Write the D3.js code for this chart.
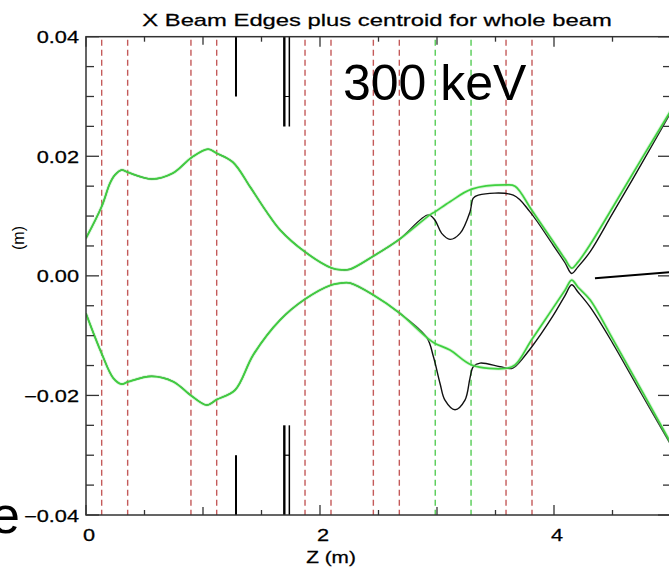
<!DOCTYPE html>
<html>
<head>
<meta charset="utf-8">
<script src="https://cdn.jsdelivr.net/npm/d3@7"></script>
<style>
  html, body { margin: 0; padding: 0; background: #fff; overflow: hidden; }
  text { font-family: "Liberation Sans", Arial, Helvetica, sans-serif; fill: #000; }
</style>
</head>
<body>
<script>
// Beam envelope along the beamline: [z (m), x (m)]
const envelopeUpper = [
  [0, 0.0063], [0.134, 0.0116], [0.205, 0.0155], [0.248, 0.0169], [0.305, 0.0177],
  [0.359, 0.0173], [0.562, 0.0162], [0.744, 0.0172], [0.903, 0.0198], [1.043, 0.0212],
  [1.117, 0.0205], [1.256, 0.0190], [1.402, 0.0149], [1.544, 0.0107], [1.658, 0.0077],
  [1.872, 0.0040], [2.100, 0.0013], [2.185, 0.0010], [2.256, 0.0011], [2.456, 0.0033],
  [2.678, 0.0061], [2.940, 0.0102], [2.983, 0.0107], [3.111, 0.0124], [3.297, 0.0145],
  [3.581, 0.0152], [3.667, 0.0150], [3.809, 0.0110], [3.991, 0.0058], [4.094, 0.0028],
  [4.151, 0.0013], [4.205, 0.0023], [4.308, 0.0052], [4.5, 0.0114], [4.75, 0.0196],
  [5.0, 0.0277]
];
const envelopeLower = [
  [0, -0.0063], [0.134, -0.0130], [0.233, -0.0171], [0.305, -0.0181], [0.362, -0.0177],
  [0.562, -0.0168], [0.746, -0.0177], [0.903, -0.0201], [1.032, -0.0216], [1.117, -0.0207],
  [1.274, -0.0191], [1.430, -0.0132], [1.658, -0.0074], [1.872, -0.0039], [2.100, -0.0015],
  [2.185, -0.0012], [2.256, -0.0012], [2.456, -0.0032], [2.678, -0.0062], [2.912, -0.0103],
  [2.983, -0.0113], [3.111, -0.0124], [3.297, -0.0149], [3.581, -0.0155], [3.667, -0.0149],
  [3.809, -0.0107], [3.991, -0.0054], [4.094, -0.0024], [4.151, -0.0007], [4.205, -0.0019],
  [4.308, -0.0040], [4.5, -0.0105], [4.75, -0.0192], [5.0, -0.0280]
];
// Beam edges for the whole beam
const edgeUpper = [
  [0, 0.0063], [0.134, 0.0116], [0.205, 0.0155], [0.248, 0.0169], [0.305, 0.0177],
  [0.359, 0.0173], [0.562, 0.0162], [0.744, 0.0172], [0.903, 0.0198], [1.043, 0.0212],
  [1.117, 0.0205], [1.256, 0.0190], [1.402, 0.0149], [1.544, 0.0107], [1.658, 0.0077],
  [1.872, 0.0040], [2.100, 0.0013], [2.185, 0.0010], [2.256, 0.0011], [2.456, 0.0033],
  [2.678, 0.0061], [2.926, 0.0102], [2.983, 0.0093], [3.040, 0.0071], [3.111, 0.0061],
  [3.197, 0.0071], [3.282, 0.0107], [3.310, 0.0130], [3.353, 0.0135], [3.652, 0.0135],
  [3.795, 0.0107], [3.991, 0.0052], [4.094, 0.0022], [4.151, 0.0004], [4.205, 0.0015],
  [4.308, 0.0040], [4.5, 0.0104], [4.75, 0.0188], [5.0, 0.0274]
];
const edgeLower = [
  [0, -0.0063], [0.134, -0.0130], [0.233, -0.0171], [0.305, -0.0181], [0.362, -0.0177],
  [0.562, -0.0168], [0.746, -0.0177], [0.903, -0.0201], [1.032, -0.0216], [1.117, -0.0207],
  [1.274, -0.0191], [1.430, -0.0132], [1.658, -0.0074], [1.872, -0.0039], [2.100, -0.0015],
  [2.185, -0.0012], [2.256, -0.0012], [2.456, -0.0032], [2.678, -0.0062], [2.912, -0.0103],
  [2.969, -0.0135], [3.026, -0.0180], [3.068, -0.0208], [3.154, -0.0224], [3.239, -0.0208],
  [3.282, -0.0171], [3.310, -0.0152], [3.368, -0.0146], [3.538, -0.0152], [3.638, -0.0155],
  [3.667, -0.0152], [3.809, -0.0119], [3.991, -0.0067], [4.094, -0.0033], [4.151, -0.0015],
  [4.205, -0.0027], [4.308, -0.0052], [4.5, -0.0112], [4.75, -0.0198], [5.0, -0.0283]
];
// Element positions along z (m)
const quadZ = [0.134, 0.356, 0.897, 1.117, 1.872, 2.094, 2.456, 2.678, 3.590, 3.812];
const steererZ = [2.985, 3.291];
// Apertures: z position and inner half-gap (m)
const apertureZ = [1.282, 1.695, 1.738];
const apertureGap = [0.030, 0.025, 0.025];
const apertureWidth = [2, 2.4, 1.5];
// Pointer line: [z, x]
const pointer = [[4.35, -0.0004], [5.1, 0.0008]];

const xTickLabels = [0, 2, 4];
const yTickLabels = [0.04, 0.02, 0.00, -0.02, -0.04];

const W = 669, H = 568;
const svg = d3.select("body").append("svg").attr("width", W).attr("height", H);

const x = d3.scaleLinear().domain([0, 5]).range([86, 671]);
const y = d3.scaleLinear().domain([-0.04, 0.04]).range([515, 36.7]);

svg.append("defs").append("clipPath").attr("id", "plot")
  .append("rect").attr("x", x(0)).attr("y", y(0.04))
  .attr("width", x(5) - x(0)).attr("height", y(-0.04) - y(0.04));

const plot = svg.append("g").attr("clip-path", "url(#plot)");

// dashed element markers
plot.selectAll("line.quad").data(quadZ).join("line")
  .attr("x1", d => x(d)).attr("x2", d => x(d))
  .attr("y1", y(0.04)).attr("y2", y(-0.04))
  .attr("stroke", "#c45a5a").attr("stroke-width", 1.4)
  .attr("stroke-dasharray", "6,4").attr("stroke-dashoffset", -3);
plot.selectAll("line.steer").data(steererZ).join("line")
  .attr("x1", d => x(d)).attr("x2", d => x(d))
  .attr("y1", y(0.04)).attr("y2", y(-0.04))
  .attr("stroke", "#55cc55").attr("stroke-width", 1.4)
  .attr("stroke-dasharray", "6,4").attr("stroke-dashoffset", -3);

// aperture plates, top and bottom
apertureZ.forEach((z, i) => {
  [1, -1].forEach(s => {
    plot.append("line")
      .attr("x1", x(z)).attr("x2", x(z))
      .attr("y1", y(s * 0.04)).attr("y2", y(s * apertureGap[i]))
      .attr("stroke", "#000").attr("stroke-width", apertureWidth[i]);
  });
});
[1, -1].forEach(s => {
  plot.append("line")
    .attr("x1", x(apertureZ[1])).attr("x2", x(apertureZ[2]))
    .attr("y1", y(s * 0.030)).attr("y2", y(s * 0.030))
    .attr("stroke", "#000").attr("stroke-width", 1.2);
});

const line = d3.line().x(d => x(d[0])).y(d => y(d[1])).curve(d3.curveCatmullRom.alpha(0.5));

[edgeUpper, edgeLower].forEach(s => {
  plot.append("path").attr("d", line(s)).attr("fill", "none")
    .attr("stroke", "#111").attr("stroke-width", 1.4);
});
[envelopeUpper, envelopeLower].forEach(s => {
  plot.append("path").attr("d", line(s)).attr("fill", "none")
    .attr("stroke", "#9be89b").attr("stroke-width", 3.4).attr("stroke-opacity", 0.4);
  plot.append("path").attr("d", line(s)).attr("fill", "none")
    .attr("stroke", "#3fd03f").attr("stroke-width", 1.7);
});

// pointer
svg.append("line")
  .attr("x1", x(pointer[0][0])).attr("y1", y(pointer[0][1]))
  .attr("x2", x(pointer[1][0])).attr("y2", y(pointer[1][1]))
  .attr("stroke", "#000").attr("stroke-width", 2);

// frame and ticks
const axisColor = "#333";
const frame = svg.append("g").attr("stroke", axisColor).attr("fill", "none");
frame.append("rect").attr("x", x(0)).attr("y", y(0.04))
  .attr("width", x(5) - x(0)).attr("height", y(-0.04) - y(0.04))
  .attr("stroke-width", 1.5);

const xTicks = d3.range(0, 5.001, 0.5);
const xLen = d => (Math.abs(d % 2) < 1e-6 ? 10 : Math.abs(d % 1) < 1e-6 ? 8 : 5);
xTicks.forEach(d => {
  frame.append("line").attr("x1", x(d)).attr("x2", x(d))
    .attr("y1", y(-0.04)).attr("y2", y(-0.04) - xLen(d)).attr("stroke-width", 1.3);
  frame.append("line").attr("x1", x(d)).attr("x2", x(d))
    .attr("y1", y(0.04)).attr("y2", y(0.04) + xLen(d)).attr("stroke-width", 1.3);
});
const yTicks = d3.range(-0.04, 0.04001, 0.005);
const yLen = d => (Math.abs(Math.round(d * 1000) % 20) === 0 ? 13 : 8);
yTicks.forEach(d => {
  frame.append("line").attr("x1", x(0)).attr("x2", x(0) + yLen(d))
    .attr("y1", y(d)).attr("y2", y(d)).attr("stroke-width", 1.3);
  frame.append("line").attr("x1", x(5)).attr("x2", x(5) - yLen(d))
    .attr("y1", y(d)).attr("y2", y(d)).attr("stroke-width", 1.3);
});

// text helpers: the plotting font is wide, so glyphs are stretched horizontally
function wideText(txt, tx, ty, anchor, size, sx) {
  return svg.append("text")
    .attr("transform", `translate(${tx},${ty}) scale(${sx},1)`)
    .attr("text-anchor", anchor)
    .style("font-size", size + "px")
    .style("stroke", "#000").style("stroke-width", 0.25)
    .text(txt);
}

const fmtY = d3.format(".2f");
yTickLabels.forEach(v => {
  const s = fmtY(v).replace("-", "\u2212");
  wideText(s === "\u22120.00" ? "0.00" : s, 79, y(v) + 6.5, "end", 16, 1.36);
});
xTickLabels.forEach(v => wideText(String(v), x(v) + 3, 541, "middle", 16, 1.36));
wideText("Z (m)", 331, 563, "middle", 16, 1.3);
wideText("X Beam Edges plus centroid for whole beam", 377, 26, "middle", 17, 1.4);

svg.append("text")
  .attr("transform", "translate(24,238) rotate(-90)")
  .attr("text-anchor", "middle")
  .style("font-size", "16px")
  .text("(m)");

// annotations
svg.append("text").attr("x", 343).attr("y", 100)
  .style("font-size", "50px").text("300 keV");
svg.append("text").attr("x", -9).attr("y", 533)
  .style("font-size", "52px").text("e");
</script>
</body>
</html>
